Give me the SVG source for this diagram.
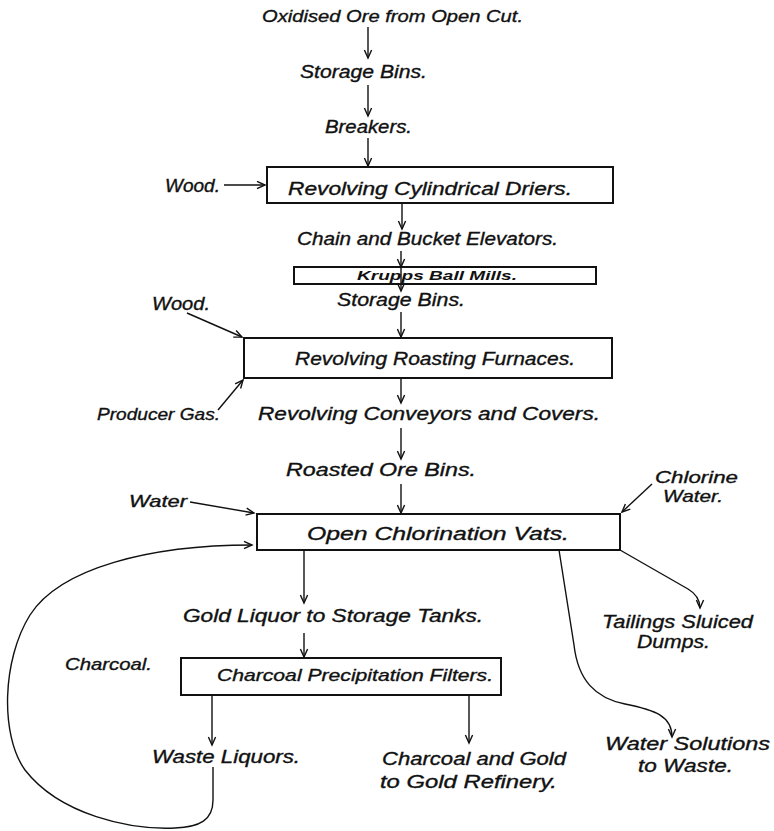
<svg xmlns="http://www.w3.org/2000/svg" width="774" height="831" viewBox="0 0 774 831">
<defs>
<marker id="ah" markerUnits="userSpaceOnUse" markerWidth="12" markerHeight="12" viewBox="-9 -6 12 12" refX="0" refY="0" orient="auto">
<path d="M-8,-3.6 L0,0 L-8,3.6" fill="none" stroke="#111" stroke-width="1.4"/>
</marker>
<style>
text{font-family:"Liberation Sans",Arial,sans-serif;font-style:italic;fill:#111;stroke:#111;stroke-width:0.35;font-size:18px}
.s{font-size:17px}
.k{font-size:13px;font-weight:bold;stroke-width:0}
.box{fill:none;stroke:#111;stroke-width:2}
.c{fill:none;stroke:#111;stroke-width:1.4;marker-end:url(#ah)}
</style>
</defs>
<rect width="774" height="831" fill="#fff"/>
<g id="connectors">
<line class="c" x1="368" y1="27" x2="368" y2="58"/>
<line class="c" x1="368" y1="85" x2="368" y2="116"/>
<line class="c" x1="368" y1="138" x2="368" y2="166"/>
<line class="c" x1="224" y1="185" x2="265" y2="185"/>
<line class="c" x1="402" y1="203" x2="402" y2="229"/>
<line class="c" x1="401" y1="251" x2="401" y2="267"/>
<line class="c" x1="401" y1="267" x2="401" y2="291"/>
<line class="c" x1="401" y1="312" x2="401" y2="337"/>
<line class="c" x1="187" y1="313" x2="242" y2="337"/>
<line class="c" x1="218" y1="410" x2="243" y2="380"/>
<line class="c" x1="401" y1="378" x2="401" y2="403"/>
<line class="c" x1="401" y1="428" x2="401" y2="459"/>
<line class="c" x1="401" y1="484" x2="401" y2="513"/>
<line class="c" x1="190" y1="502" x2="254" y2="513"/>
<line class="c" x1="652" y1="484" x2="622" y2="512"/>
<path class="c" d="M620,550 L688,589 Q700,596 700,608"/>
<path class="c" d="M559,550 L574,645 C578,680 595,698 625,704 C655,710 672,716 672,737"/>
<line class="c" x1="304" y1="551" x2="304" y2="603"/>
<line class="c" x1="304" y1="633" x2="304" y2="657"/>
<line class="c" x1="212" y1="695" x2="212" y2="745"/>
<line class="c" x1="469" y1="695" x2="469" y2="743"/>
<path class="c" d="M213,767 L213,800 C213,820 200,827 175,828 C130,830 60,815 25,770 C0,735 2,660 30,615 C60,568 150,545 252,545"/>
</g>
<g id="n-ore"><text x="262" y="22" textLength="261" lengthAdjust="spacingAndGlyphs" class="s">Oxidised Ore from Open Cut.</text></g>
<g id="n-storage1"><text x="300" y="78" textLength="127" lengthAdjust="spacingAndGlyphs">Storage Bins.</text></g>
<g id="n-breakers"><text x="325" y="133" textLength="87" lengthAdjust="spacingAndGlyphs">Breakers.</text></g>
<g id="n-wood1"><text x="165" y="192" textLength="55" lengthAdjust="spacingAndGlyphs">Wood.</text></g>
<g id="n-driers"><rect class="box" x="267" y="167" width="346" height="36"/><text x="288" y="195" textLength="284" lengthAdjust="spacingAndGlyphs">Revolving  Cylindrical Driers.</text></g>
<g id="n-chain"><text x="297" y="245" textLength="261" lengthAdjust="spacingAndGlyphs">Chain and Bucket Elevators.</text></g>
<g id="n-krupps"><rect class="box" x="294" y="267" width="302" height="17"/><text x="357" y="280" textLength="160" lengthAdjust="spacingAndGlyphs" class="k">Krupps Ball Mills.</text></g>
<g id="n-storage2"><text x="337" y="306" textLength="128" lengthAdjust="spacingAndGlyphs">Storage Bins.</text></g>
<g id="n-wood2"><text x="152" y="310" textLength="58" lengthAdjust="spacingAndGlyphs">Wood.</text></g>
<g id="n-furnaces"><rect class="box" x="244" y="338" width="368" height="40"/><text x="295" y="365" textLength="280" lengthAdjust="spacingAndGlyphs">Revolving  Roasting Furnaces.</text></g>
<g id="n-gas"><text x="97" y="420" textLength="123" lengthAdjust="spacingAndGlyphs" class="s">Producer Gas.</text></g>
<g id="n-conveyors"><text x="258" y="420" textLength="342" lengthAdjust="spacingAndGlyphs">Revolving Conveyors and Covers.</text></g>
<g id="n-roasted"><text x="286" y="476" textLength="190" lengthAdjust="spacingAndGlyphs">Roasted Ore Bins.</text></g>
<g id="n-water"><text x="129" y="507" textLength="58" lengthAdjust="spacingAndGlyphs" class="s">Water</text></g>
<g id="n-chlorine"><text x="655" y="483" textLength="83" lengthAdjust="spacingAndGlyphs" class="s">Chlorine</text><text x="663" y="502" textLength="60" lengthAdjust="spacingAndGlyphs" class="s">Water.</text></g>
<g id="n-vats"><rect class="box" x="257" y="514" width="363" height="36"/><text x="307" y="540" textLength="262" lengthAdjust="spacingAndGlyphs">Open Chlorination Vats.</text></g>
<g id="n-tailings"><text x="602" y="628" textLength="151" lengthAdjust="spacingAndGlyphs">Tailings Sluiced</text><text x="637" y="648" textLength="73" lengthAdjust="spacingAndGlyphs">Dumps.</text></g>
<g id="n-goldliquor"><text x="183" y="622" textLength="300" lengthAdjust="spacingAndGlyphs">Gold Liquor to Storage Tanks.</text></g>
<g id="n-charcoal"><text x="65" y="670" textLength="87" lengthAdjust="spacingAndGlyphs" class="s">Charcoal.</text></g>
<g id="n-filters"><rect class="box" x="181" y="658" width="320" height="37"/><text x="217" y="681" textLength="276" lengthAdjust="spacingAndGlyphs" class="s">Charcoal Precipitation Filters.</text></g>
<g id="n-waste"><text x="152" y="763" textLength="148" lengthAdjust="spacingAndGlyphs">Waste Liquors.</text></g>
<g id="n-refinery"><text x="382" y="765" textLength="184" lengthAdjust="spacingAndGlyphs">Charcoal and Gold</text><text x="380" y="788" textLength="177" lengthAdjust="spacingAndGlyphs">to Gold Refinery.</text></g>
<g id="n-watersol"><text x="605" y="750" textLength="165" lengthAdjust="spacingAndGlyphs">Water Solutions</text><text x="638" y="772" textLength="95" lengthAdjust="spacingAndGlyphs">to Waste.</text></g>
</svg>
